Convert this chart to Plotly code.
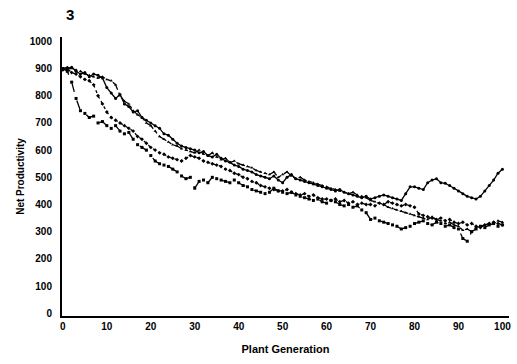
import plotly.graph_objects as go

generations = list(range(0, 101))

series_a = [900, 895, 905, 890, 880, 885, 870, 880, 875, 865,
            830, 810, 790, 805, 770, 760, 740, 745, 720, 710,
            700, 690, 680, 660, 655, 640, 625, 615, 610, 605,
            600, 590, 595, 580, 575, 585, 570, 560, 555, 545,
            540, 530, 525, 520, 510, 505, 500, 495, 505, 490,
            480, 500, 510, 495, 490, 485, 480, 475, 470, 465,
            460, 455, 450, 455, 445, 440, 435, 430, 425, 430,
            420, 425, 430, 435, 430, 425, 420, 415, 440, 465,
            465, 460, 455, 480, 490, 495, 480, 478, 470, 460,
            450, 440, 430, 425, 420, 430, 450, 470, 490, 515,
            530]

series_b = [900, 890, 850, 790, 745, 735, 720, 725, 700, 705,
            690, 680, 690, 670, 660, 665, 640, 620, 610, 600,
            580, 560, 550, 545, 540, 530, 520, 505, 495, 500,
            460, 485, 490, 480, 500, 495, 490, 485, 480, 490,
            480, 470, 465, 455, 450, 445, 440, 445, 460, 450,
            445, 440, 445, 435, 430, 425, 420, 415, 420, 410,
            405, 415, 410, 400, 395, 400, 390, 395, 380, 370,
            345, 350, 340, 335, 330, 325, 320, 310, 315, 320,
            330, 335, 340, 330, 325, 335, 330, 320, 325, 315,
            310, 275, 265, 300, 310, 320, 315, 325, 330, 320,
            325]

series_c = [895, 900, 885, 880, 870, 860, 855, 840, 800, 770,
            740, 720, 710, 700, 690, 680, 670, 650, 640, 625,
            610, 600, 590, 585, 575, 570, 565, 560, 570, 580,
            575, 570, 560, 555, 550, 545, 540, 530, 525, 515,
            510, 500, 495, 485, 480, 470, 465, 460, 455, 450,
            450, 455, 445, 440, 435, 440, 430, 435, 425, 420,
            420, 415, 420, 410, 415, 405, 410, 400, 405, 400,
            400, 395, 405, 400, 410, 405, 400, 395, 400, 395,
            390, 365, 360, 355, 350, 345, 350, 340, 345, 335,
            330, 335, 325, 330, 320, 315, 325, 330, 335, 330,
            325]

series_d = [900, 905, 900, 895, 890, 880, 875, 870, 865, 870,
            860, 855, 840, 800, 780, 770, 745, 730, 720, 700,
            690, 670, 650, 640, 630, 620, 615, 605, 600, 595,
            590, 600, 585, 580, 590, 575, 565, 570, 555, 560,
            550, 545, 540, 535, 525, 520, 515, 510, 520, 500,
            510, 520, 505, 495, 500, 490, 485, 480, 475, 470,
            465, 460, 455, 450, 445, 440, 445, 435, 430, 425,
            415, 410, 405, 400, 390, 385, 380, 375, 370, 365,
            360, 355, 350, 345, 355, 345, 340, 330, 335, 325,
            320, 305, 310, 300, 315, 320, 325, 330, 335, 340,
            335]

x_ticks = [0, 10, 20, 30, 40, 50, 60, 70, 80, 90, 100]
y_ticks = [0, 100, 200, 300, 400, 500, 600, 700, 800, 900, 1000]

FONT = "Liberation Sans"

fig = go.Figure()
styles = [("solid", "circle"), ("dash", "square"), ("dot", "diamond"), ("dashdot", "triangle-up")]
for ys, (dash, sym) in zip([series_a, series_b, series_c, series_d], styles):
    fig.add_trace(go.Scatter(
        x=generations, y=ys, mode="lines+markers",
        line=dict(color="black", width=1.3, dash=dash),
        marker=dict(color="black", size=3, symbol=sym),
        showlegend=False,
    ))

L, R, T, B = 62, 6, 37, 48
fig.update_layout(
    width=517, height=364,
    margin=dict(l=L, r=R, t=T, b=B),
    paper_bgcolor="white", plot_bgcolor="white",
    font=dict(family=FONT, color="black", size=10),
    annotations=[dict(text="<b>3</b>",
                      x=(70 - L) / (517 - L - R), y=1 + (T - 15) / (364 - T - B),
                      xref="paper", yref="paper",
                      showarrow=False, font=dict(size=15, family=FONT, color="black"),
                      xanchor="center", yanchor="middle")],
)

fig.update_xaxes(
    range=[-0.2, 101.5], tickvals=x_ticks, ticktext=[f"<b>{t}</b>" for t in x_ticks],
    showgrid=False, zeroline=False, showline=True, linecolor="black", linewidth=2,
    ticks="", tickfont=dict(size=10, family=FONT),
    title=dict(text="<b>Plant Generation</b>", font=dict(size=11, family=FONT), standoff=14),
)
fig.update_yaxes(
    range=[-10, 1016], tickvals=y_ticks, ticktext=[f"<b>{t}</b>" for t in y_ticks],
    showgrid=False, zeroline=False, showline=True, linecolor="black", linewidth=2,
    ticks="", ticklabelstandoff=6, tickfont=dict(size=10, family=FONT),
    title=dict(text="<b>Net Productivity</b>", font=dict(size=10, family=FONT), standoff=3),
)

fig.write_html("out.html")
